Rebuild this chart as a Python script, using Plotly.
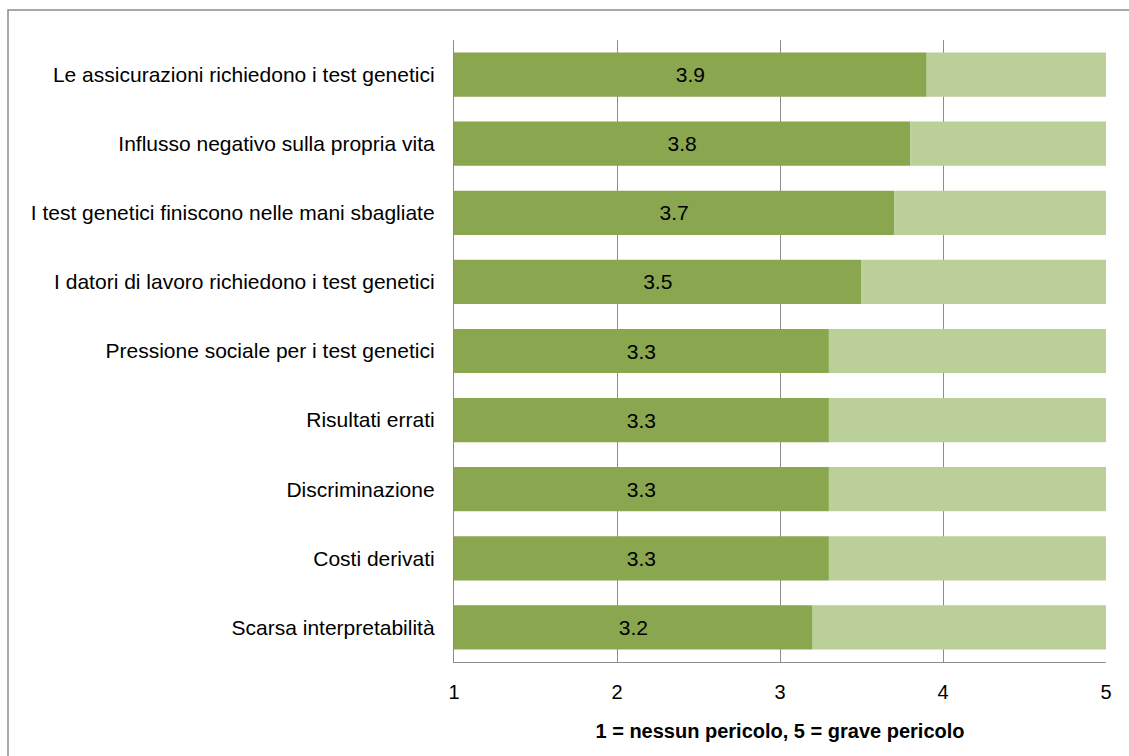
import plotly.graph_objects as go

categories = [
    "Le assicurazioni richiedono i test genetici",
    "Influsso negativo sulla propria vita",
    "I test genetici finiscono nelle mani sbagliate",
    "I datori di lavoro richiedono i test genetici",
    "Pressione sociale per i test genetici",
    "Risultati errati",
    "Discriminazione",
    "Costi derivati",
    "Scarsa interpretabilità",
]
values = [3.9, 3.8, 3.7, 3.5, 3.3, 3.3, 3.3, 3.3, 3.2]
scale_min = 1
scale_max = 5
x_ticks = [1, 2, 3, 4, 5]
x_title = "1 = nessun pericolo, 5 = grave pericolo"

dark = "#8AA64F"
light = "#BBCF98"
FONT = "Liberation Sans, Arial"

fig = go.Figure()
fig.add_trace(go.Bar(
    y=categories, x=[v - scale_min for v in values], base=scale_min,
    orientation="h", marker=dict(color=dark, line=dict(width=0)),
    text=[f"{v:.1f}" for v in values], textposition="inside",
    insidetextanchor="middle", textfont=dict(color="black", size=21, family=FONT),
    hoverinfo="skip",
))
fig.add_trace(go.Bar(
    y=categories, x=[scale_max - v for v in values], base=values,
    orientation="h", marker=dict(color=light, line=dict(width=0)),
    hoverinfo="skip",
))

L, R, T, B = 454, 23, 40, 94
W, H = 1129, 756
pw, ph = W - L - R, H - T - B

fig.update_layout(
    width=W, height=H, barmode="overlay", bargap=0.36, showlegend=False,
    margin=dict(l=L, r=R, t=T, b=B),
    plot_bgcolor="white", paper_bgcolor="white",
    font=dict(family=FONT, size=20, color="black"),
    xaxis=dict(range=[scale_min, scale_max], tickvals=x_ticks, showgrid=True,
               gridcolor="#8c8c8c", gridwidth=1.3, showline=True, linecolor="#8c8c8c",
               linewidth=1.3, zeroline=False, ticks="", ticklabelstandoff=12,
               tickfont=dict(size=20),
               title=dict(text="<b>" + x_title + "</b>", font=dict(size=20), standoff=21)),
    yaxis=dict(categoryorder="array", categoryarray=categories[::-1], showline=True,
               linecolor="#8c8c8c", linewidth=1.3, ticks="", ticklabelstandoff=14,
               tickfont=dict(size=21), showgrid=False, range=[-0.5, len(categories) - 0.5]),
    shapes=[dict(type="rect", xref="paper", yref="paper",
                 x0=(8 - L) / pw, x1=(W + 10 - L) / pw,
                 y0=-(H + 10 - (H - B)) / ph, y1=(H - B - 10) / ph,
                 line=dict(color="#8c8c8c", width=1.5), fillcolor="rgba(0,0,0,0)", layer="below")],
)

fig.write_html("out.html")
